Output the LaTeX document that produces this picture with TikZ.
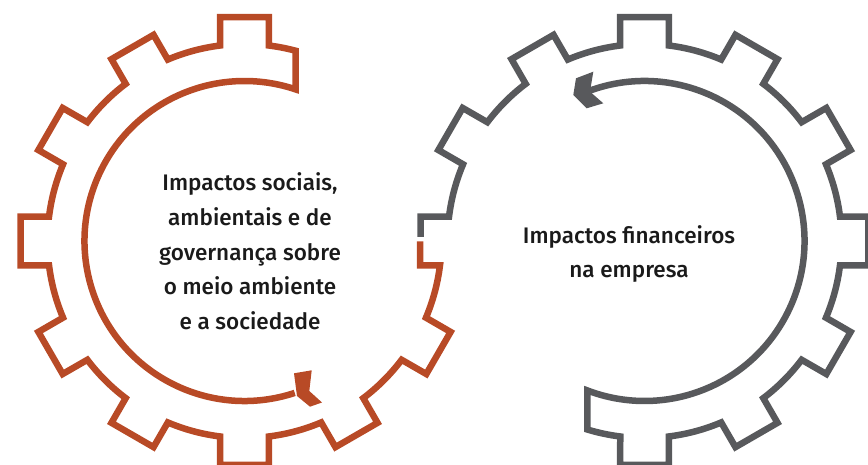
\documentclass[tikz,border=0pt]{standalone}
\usepackage{fontspec}
\setmainfont{Fira Sans}[UprightFont=* Medium]
\definecolor{gearred}{RGB}{184,74,38}
\definecolor{geargray}{RGB}{88,89,92}
\definecolor{txtcol}{RGB}{26,26,26}
\begin{document}
\begin{tikzpicture}[x=1pt,y=1pt,
  gearline/.style={line width=6.5pt, line join=miter, line cap=butt},
  txtbox/.style={font=\fontsize{22.5}{34.6}\selectfont, text=txtcol, align=center, inner sep=0pt}]
\useasboundingbox (0,0) rectangle (868,465);
\clip (0,0) rectangle (868,465);
% left gear
\begin{scope}[shift={(244.5,224)}]
\draw[gearline, gearred] (288.3:160) arc[start angle=288.3, end angle=71.4, radius=160]
  -- (51,190.28) arc[start angle=75.0, end angle=82.91, radius=197]
  \foreach \t in {90,120,...,330} { -- ({\t-6.19}:225.3) -- ({\t+6.19}:225.3) -- ({\t+7.09}:197) arc[start angle=\t+7.09, end angle=\t+22.91, radius=197] }
  -- (175.5,-24.3) -- (175.5,-0.5);
\end{scope}
% right gear
\begin{scope}[shift={(644.5,224)}]
\draw[gearline, geargray] (110:160) arc[start angle=110, end angle=-110.9, radius=160]
  -- (-57.2,-188.5) arc[start angle=-106.9, end angle=-97.09, radius=197]
  \foreach \t in {-90,-60,...,150} { -- ({\t-6.19}:225.3) -- ({\t+6.19}:225.3) -- ({\t+7.09}:197) arc[start angle=\t+7.09, end angle=\t+22.91, radius=197] }
  -- (-224,24.3) -- (-224,4);
\end{scope}
% arrowheads
\fill[geargray] (576,386.7) -- (593.3,393.3) -- (590,373.3) -- (603.3,361.7) -- (586.7,356.7) -- (573.3,370) -- cycle;
\fill[gearred] (294,91.7) -- (311.7,94.7) -- (309.3,74) -- (322,62.5) -- (310,58.3) -- (297,69) -- cycle;
% texts
\node[txtbox] (lt) at (250,213.75) {Impactos sociais,\\ambientais e de\\governança sobre\\o meio ambiente\\e a sociedade};
\node[txtbox] (rt) at (629,211) {Impactos financeiros\\na empresa};
\end{tikzpicture}
\end{document}
